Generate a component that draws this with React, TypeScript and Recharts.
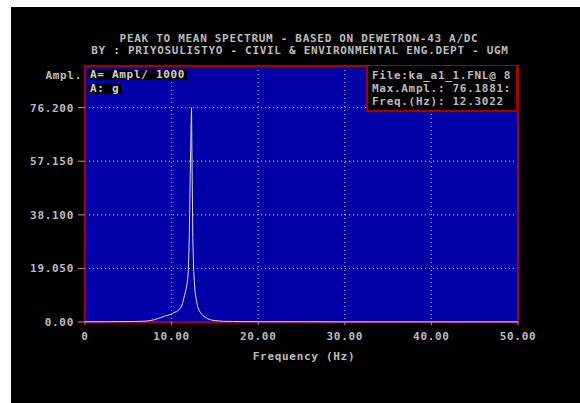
import React from 'react';
import { LineChart, Line, XAxis, YAxis, CartesianGrid, ReferenceArea } from 'recharts';

const freqs = [0, 2, 4, 6, 7, 7.5, 8, 8.5, 9, 9.3, 9.6, 10, 10.3, 10.6, 10.9, 11.1, 11.3, 11.5, 11.7, 11.85, 11.95, 12.05, 12.15, 12.25, 12.3, 12.35, 12.45, 12.55, 12.7, 12.85, 13.0, 13.2, 13.4, 13.6, 13.9, 14.2, 14.6, 15.0, 15.5, 16.0, 17, 18, 20, 25, 30, 35, 40, 45, 50];
const amps = [0.1, 0.1, 0.15, 0.2, 0.3, 0.5, 0.8, 1.3, 1.8, 2.2, 2.4, 2.9, 3.4, 3.7, 4.6, 5.2, 7.0, 9.5, 12.0, 15.0, 19.0, 32.0, 52.0, 70.0, 76.19, 60.0, 30.0, 18.0, 11.0, 8.0, 5.5, 4.0, 3.0, 2.3, 1.6, 1.1, 0.7, 0.5, 0.35, 0.25, 0.2, 0.15, 0.1, 0.1, 0.05, 0.05, 0.05, 0.05, 0.05];

const xTicks = [0, 10, 20, 30, 40, 50];
const xTickLabels = ['0', '10.00', '20.00', '30.00', '40.00', '50.00'];
const yTicks = [0, 19.05, 38.1, 57.15, 76.2];
const yTickLabels = ['0.00', '19.050', '38.100', '57.150', '76.200'];

const titleLines = ['PEAK TO MEAN SPECTRUM - BASED ON DEWETRON-43 A/DC', 'BY : PRIYOSULISTYO - CIVIL & ENVIRONMENTAL ENG.DEPT - UGM'];
const infoLines = ['File:ka_a1_1.FNL@ 8', 'Max.Ampl.: 76.1881:', 'Freq.(Hz): 12.3022'];

const data = freqs.map((f, i) => ({ f, a: amps[i] }));

const FONT = '"DejaVu Sans Mono", monospace';
const TXT = '#bcbcbc';

const baseText: React.CSSProperties = {
  position: 'absolute',
  fontFamily: FONT,
  fontWeight: 'bold',
  fontSize: 11,
  letterSpacing: 0.7,
  lineHeight: '11px',
  whiteSpace: 'pre',
  color: TXT,
};

const XTick = (props: any) => {
  const { x, y, payload } = props;
  const idx = xTicks.indexOf(payload.value);
  return (
    <text x={x} y={y + 13} textAnchor="middle" fill={TXT} fontFamily={FONT} fontWeight="bold" fontSize={11} letterSpacing={0.7}>
      {xTickLabels[idx]}
    </text>
  );
};

const YTick = (props: any) => {
  const { x, y, payload } = props;
  const idx = yTicks.indexOf(payload.value);
  return (
    <text x={x} y={y + 4} textAnchor="end" fill={TXT} fontFamily={FONT} fontWeight="bold" fontSize={11} letterSpacing={0.7}>
      {yTickLabels[idx]}
    </text>
  );
};

export default function App() {
  return (
    <div style={{ position: 'absolute', left: 0, top: 0, width: 580, height: 403, background: '#ffffff' }}>
      <div style={{ position: 'absolute', left: 11, top: 7, width: 569, height: 396, background: '#000000' }}>
        <LineChart width={569} height={396} data={data} margin={{ top: 59, right: 62, bottom: 0, left: 0 }}>
          <CartesianGrid
            fill="#0000a8"
            fillOpacity={1}
            stroke="#d0d0d0"
            strokeDasharray="1 3"
            horizontalValues={yTicks}
            verticalValues={xTicks}
          />
          <XAxis
            dataKey="f"
            type="number"
            domain={[0, 50]}
            ticks={xTicks}
            height={81}
            axisLine={false}
            tickLine={{ stroke: '#a0a0a0' }}
            tickSize={3}
            tickMargin={2}
            tick={<XTick />}
            interval={0}
          />
          <YAxis
            type="number"
            domain={[0, 91]}
            ticks={yTicks}
            width={74}
            axisLine={false}
            tickLine={{ stroke: '#a0a0a0' }}
            tickSize={7}
            tickMargin={4}
            tick={<YTick />}
            interval={0}
          />
          <ReferenceArea x1={0} x2={50} y1={0} y2={91} fill="none" stroke="#a80000" strokeWidth={2} ifOverflow="visible" />
          <Line type="linear" dataKey="a" stroke="#dcdcdc" strokeWidth={1} dot={false} isAnimationActive={false} />
        </LineChart>

        <div style={{ ...baseText, left: 0, width: 576, top: 26, textAlign: 'center' }}>{titleLines[0]}</div>
        <div style={{ ...baseText, left: 0, width: 578, top: 38, textAlign: 'center' }}>{titleLines[1]}</div>

        <div style={{ ...baseText, left: 0, width: 71, top: 63, textAlign: 'right' }}>Ampl.</div>

        <div style={{ ...baseText, left: 77, top: 62, background: '#000', padding: '0 2px', color: '#d0d0d0' }}>A= Ampl/ 1000</div>
        <div style={{ ...baseText, left: 77, top: 76, background: '#000', padding: '0 2px', color: '#d0d0d0' }}>A: g</div>

        <div style={{ position: 'absolute', left: 355, top: 59, width: 148, height: 44, background: '#000', border: '2px solid #a80000', borderTop: 'none' }}>
          {infoLines.map((t, i) => (
            <div key={i} style={{ ...baseText, left: 4, top: 4 + i * 13 }}>{t}</div>
          ))}
        </div>

        <div style={{ ...baseText, left: 0, width: 586, top: 344, textAlign: 'center' }}>Frequency (Hz)</div>
      </div>
    </div>
  );
}
